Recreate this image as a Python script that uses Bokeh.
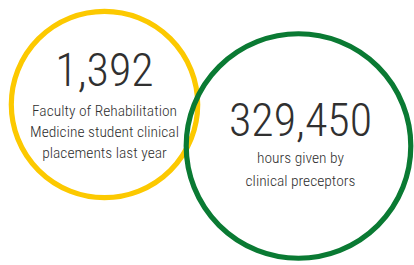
from bokeh.plotting import figure
from bokeh.models import Range1d
from bokeh.core.properties import value
from bokeh.embed import file_html
from bokeh.resources import INLINE

# ---- data ----
stat_values = [1392, 329450]
stat_labels = [
    ["Faculty of Rehabilitation", "Medicine student clinical", "placements last year"],
    ["hours given by", "clinical preceptors"],
]
ring_colors = ["#FCC900", "#0A7A33"]

# ---- layout (pixel-like data space) ----
W, H = 414, 265
p = figure(width=W, height=H, output_backend="svg", toolbar_location=None,
           x_range=Range1d(0, W), y_range=Range1d(H, 0), min_border=0)
p.axis.visible = False
p.grid.visible = False
p.outline_line_color = None
p.background_fill_color = "white"
p.border_fill_color = "white"

cx = [104, 298]
cy = [104, 145.5]
r = [93.2, 112.3]
p.circle(x=cx, y=cy, radius=r, fill_color=None, line_color=ring_colors,
         line_width=5.2)

num_font = value("Noto Sans ExtraCondensed Light, Noto Sans Condensed Light, "
                 "Roboto Condensed Light, Roboto Condensed, "
                 "Liberation Sans Narrow, DejaVu Sans Condensed, sans-serif")
txt_color = "#303030"

num_x = [104, 300]
num_y = [68.5, 118.5]
p.text(x=num_x, y=num_y, text=[f"{v:,}" for v in stat_values],
       text_font=num_font, text_font_size="46px", text_color=txt_color,
       text_align="center", text_baseline="alphabetic")

line_x, line_y, line_t = [], [], []
starts = [110, 157.5]
gaps = [21, 22.5]
for i, lines in enumerate(stat_labels):
    for j, t in enumerate(lines):
        line_x.append(num_x[i])
        line_y.append(starts[i] + j * gaps[i])
        line_t.append(t)
p.text(x=line_x, y=line_y, text=line_t, text_font=num_font,
       text_font_size="15.5px", text_color=txt_color,
       text_align="center", text_baseline="alphabetic")

open("out.html", "w").write(file_html(p, INLINE))
